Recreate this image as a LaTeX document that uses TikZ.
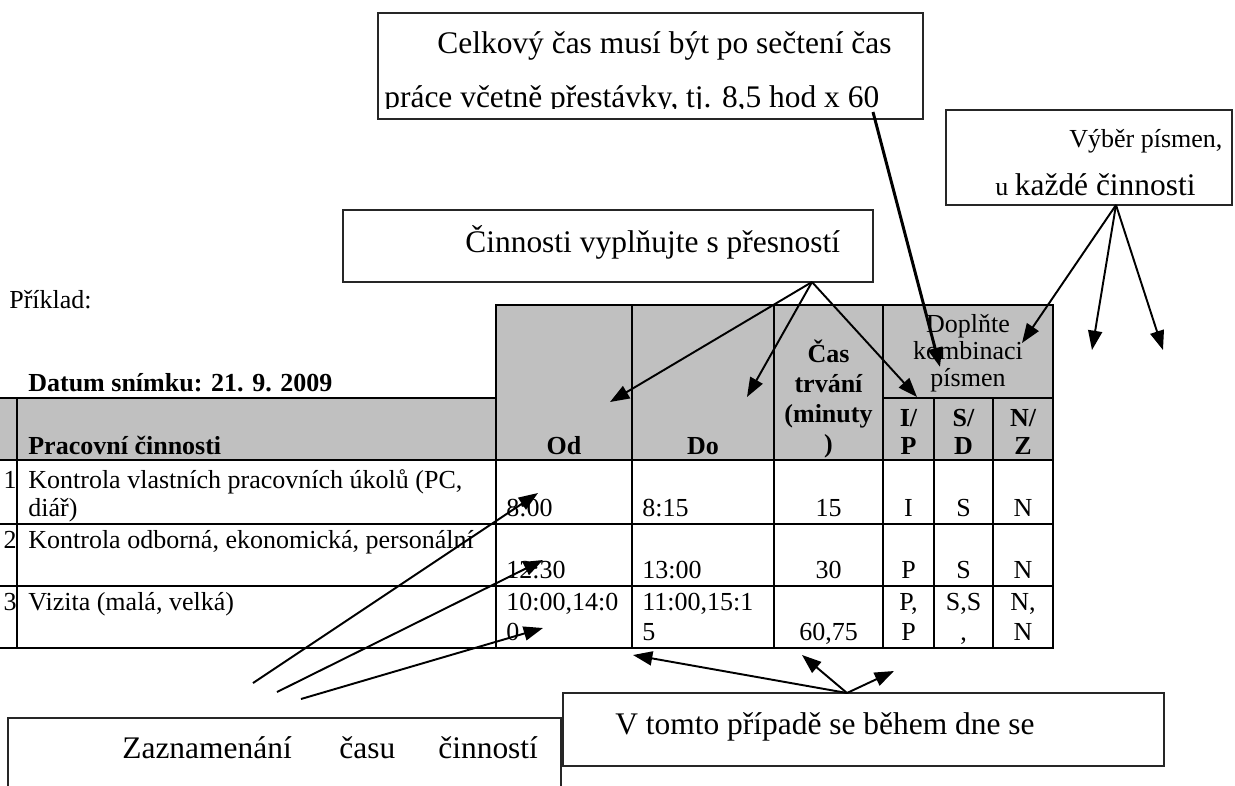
\documentclass[tikz,border=0pt]{standalone}
\usepackage{fontspec}
\setmainfont{Liberation Serif}
\usetikzlibrary{arrows.meta}
\definecolor{hdrgray}{RGB}{192,192,192}
\newcommand\tablesize{\fontsize{14.8}{16}\selectfont}
\newcommand\calloutsize{\fontsize{17.9}{20}\selectfont}

\begin{document}
\begin{tikzpicture}[x=0.02cm,y=-0.02cm,
        every node/.style={inner sep=0pt},
        celltxt/.style={font=\tablesize},
        headtxt/.style={font=\tablesize\bfseries},
        notetxt/.style={font=\calloutsize,anchor=base west},
        tabrule/.style={line width=1.1pt,line cap=rect},
        callbox/.style={line width=0.9pt,draw=black!85},
        pointer/.style={line width=1.1pt,-{Triangle[length=11pt,width=8pt]}}]
        \clip(0,0)rectangle(1235,785);

        \fill[hdrgray](496,305)rectangle(1053,460);
        \fill[hdrgray](0,398)rectangle(496,460);
        \foreach \x in {496,632,774,883,1053}\draw[tabrule](\x,305)--(\x,648);
        \foreach \x in {17,934,993}\draw[tabrule](\x,398)--(\x,648);
        \draw[tabrule](496,305)--(1053,305);
        \draw[tabrule](0,398)--(496,398);
        \draw[tabrule](883,398)--(1053,398);
        \foreach \y in {460,524,586,648}\draw[tabrule](0,\y)--(1053,\y);

        \node[celltxt,anchor=base west](priklad)at(9,308){Příklad:};
        \node[headtxt,anchor=base west](datum)at(28,391){Datum snímku: 21. 9. 2009};
        \node[headtxt,anchor=base west](hdrAct)at(28,454){Pracovní činnosti};
        \node[headtxt,anchor=base](hdrOd)at(564,454){Od};
        \node[headtxt,anchor=base](hdrDo)at(703,454){Do};
        \node[headtxt,anchor=base](cas1)at(828.5,362){Čas};
        \node[headtxt,anchor=base](cas2)at(828.5,392){trvání};
        \node[headtxt,anchor=base](cas3)at(828.5,422){(minuty};
        \node[headtxt,anchor=base](cas4)at(828.5,452){)};
        \node[celltxt,anchor=base](dop1)at(968,332){Doplňte};
        \node[celltxt,anchor=base](dop2)at(968,359){kombinaci};
        \node[celltxt,anchor=base](dop3)at(968,386){písmen};
        \node[headtxt,anchor=base](ip1)at(908.5,426){I/};
        \node[headtxt,anchor=base](ip2)at(908.5,454){P};
        \node[headtxt,anchor=base](sd1)at(963.5,426){S/};
        \node[headtxt,anchor=base](sd2)at(963.5,454){D};
        \node[headtxt,anchor=base](nz1)at(1023,426){N/};
        \node[headtxt,anchor=base](nz2)at(1023,454){Z};

        \node[celltxt,anchor=base east](num1)at(17,488){1};
        \node[celltxt,anchor=base west](act1a)at(28,488){Kontrola vlastních pracovních úkolů (PC,};
        \node[celltxt,anchor=base west](act1b)at(28,516){diář)};
        \node[celltxt,anchor=base west](od1)at(506,516){8:00};
        \node[celltxt,anchor=base west](do1)at(642,516){8:15};
        \node[celltxt,anchor=base](cas1v)at(828.5,516){15};
        \node[celltxt,anchor=base](ip1v)at(908.5,516){I};
        \node[celltxt,anchor=base](sd1v)at(963.5,516){S};
        \node[celltxt,anchor=base](nz1v)at(1023,516){N};

        \node[celltxt,anchor=base east](num2)at(17,548){2};
        \node[celltxt,anchor=base west](act2)at(28,548){Kontrola odborná, ekonomická, personální};
        \node[celltxt,anchor=base west](od2)at(506,578){12:30};
        \node[celltxt,anchor=base west](do2)at(642,578){13:00};
        \node[celltxt,anchor=base](cas2v)at(828.5,578){30};
        \node[celltxt,anchor=base](ip2v)at(908.5,578){P};
        \node[celltxt,anchor=base](sd2v)at(963.5,578){S};
        \node[celltxt,anchor=base](nz2v)at(1023,578){N};

        \node[celltxt,anchor=base east](num3)at(17,610){3};
        \node[celltxt,anchor=base west](act3)at(28,610){Vizita (malá, velká)};
        \node[celltxt,anchor=base west](od3a)at(506,610){10:00,14:0};
        \node[celltxt,anchor=base west](od3b)at(506,640){0};
        \node[celltxt,anchor=base west](do3a)at(642,610){11:00,15:1};
        \node[celltxt,anchor=base west](do3b)at(642,640){5};
        \node[celltxt,anchor=base](cas3v)at(828.5,640){60,75};
        \node[celltxt,anchor=base](ip3a)at(908.5,610){P,};
        \node[celltxt,anchor=base](ip3b)at(908.5,640){P};
        \node[celltxt,anchor=base](sd3a)at(963.5,610){S,S};
        \node[celltxt,anchor=base](sd3b)at(963.5,640){,};
        \node[celltxt,anchor=base](nz3a)at(1023,610){N,};
        \node[celltxt,anchor=base](nz3b)at(1023,640){N};

        \draw[callbox](378,13)rectangle(923,119);
        \begin{scope}
        \clip(378,13)rectangle(923,108);
        \node[notetxt](celk1)at(437,53){Celkový čas musí být po sečtení čas};
        \node[notetxt](celk2)at(384,107){práce včetně přestávky, tj. 8,5 hod x 60};
        \end{scope}
        \draw[callbox](946,110)rectangle(1232,205);
        \node[celltxt,anchor=base west](vyb1)at(1069,147){Výběr písmen,};
        \node[celltxt,anchor=base west](vyb2)at(995,195){u {\calloutsize každé činnosti}};
        \draw[callbox](343,210)rectangle(873,282);
        \node[notetxt](cin)at(465,252){Činnosti vyplňujte s přesností};
        \draw[callbox](8,718)rectangle(561,800);
        \node[notetxt](zaz1)at(122,758){Zaznamenání};
        \node[notetxt](zaz2)at(339,758){času};
        \node[notetxt](zaz3)at(438,758){činností};
        \draw[callbox](563,693)rectangle(1164,766);
        \node[notetxt](vtom)at(615,734){V tomto případě se během dne se};

        \coordinate(topFoot)at(873,112);
        \coordinate(topTip)at(940,367);
        \coordinate(cinFoot)at(812,282);
        \coordinate(odTip)at(610,402);
        \coordinate(doTip)at(747,397);
        \coordinate(ipTip)at(917,397);
        \coordinate(vybFoot)at(1116,205);
        \coordinate(vybTipA)at(1022,343);
        \coordinate(vybTipB)at(1092,350);
        \coordinate(vybTipC)at(1163,350);
        \coordinate(zazA)at(253,683);
        \coordinate(zazB)at(277,692);
        \coordinate(zazC)at(301,699);
        \coordinate(zazTipA)at(538,493);
        \coordinate(zazTipB)at(543,560);
        \coordinate(zazTipC)at(543,628);
        \coordinate(vtomFoot)at(847,693);
        \coordinate(vtomTipA)at(633,655);
        \coordinate(vtomTipB)at(802,655);
        \coordinate(vtomTipC)at(894,671);

        \draw[pointer,line width=1.7pt](topFoot)--(topTip);
        \foreach \t in {odTip,doTip,ipTip}\draw[pointer](cinFoot)--(\t);
        \foreach \t in {vybTipA,vybTipB,vybTipC}\draw[pointer](vybFoot)--(\t);
        \draw[pointer](zazA)--(zazTipA);
        \draw[pointer](zazB)--(zazTipB);
        \draw[pointer](zazC)--(zazTipC);
        \foreach \t in {vtomTipA,vtomTipB,vtomTipC}\draw[pointer](vtomFoot)--(\t);
    \end{tikzpicture}
\end{document}
